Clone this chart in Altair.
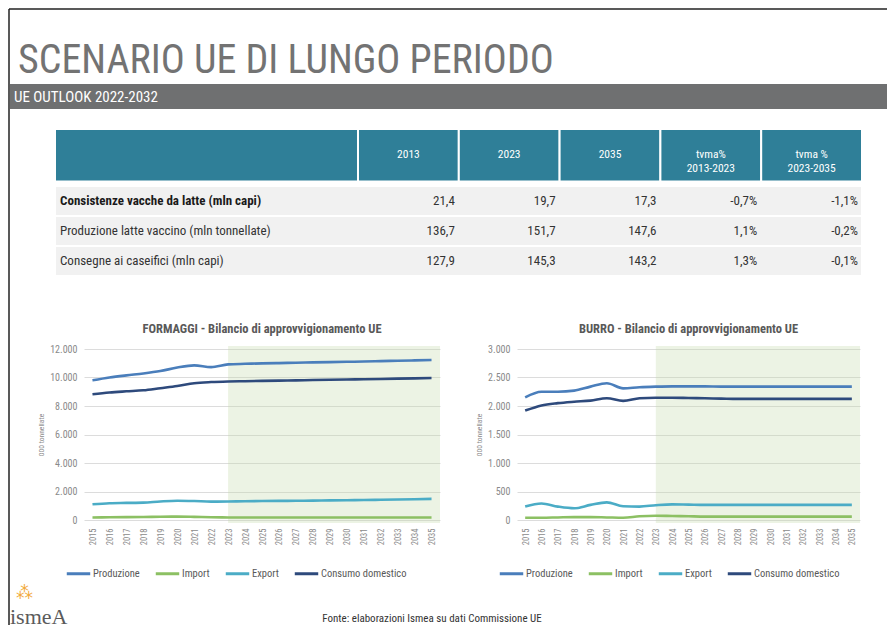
import altair as alt
import pandas as pd

FONT = "'Liberation Sans Narrow', 'Roboto Condensed', 'Arial Narrow', Roboto, sans-serif"

# ---------------- text content ----------------
title_text = "SCENARIO UE DI LUNGO PERIODO"
subtitle_text = "UE OUTLOOK 2022-2032"
source_text = "Fonte: elaborazioni Ismea su dati Commissione UE"
logo_text = "ismeA"
logo_dots = "⁂"

# ---------------- table data ----------------
table_columns = ["", "2013", "2023", "2035", "tvma%\n2013-2023", "tvma %\n2023-2035"]
row_labels = [
    "Consistenze vacche da latte  (mln capi)",
    "Produzione latte vaccino (mln tonnellate)",
    "Consegne ai caseifici (mln capi)",
]
col_2013 = ["21,4", "136,7", "127,9"]
col_2023 = ["19,7", "151,7", "145,3"]
col_2035 = ["17,3", "147,6", "143,2"]
col_tvma_13_23 = ["-0,7%", "1,1%", "1,3%"]
col_tvma_23_35 = ["-1,1%", "-0,2%", "-0,1%"]

# ---------------- chart data ----------------
years = list(range(2015, 2036))
series_names = ["Produzione", "Import", "Export", "Consumo domestico"]
series_colors = ["#4a7ebb", "#8cc063", "#4bacc6", "#2e4a7c"]
projection_start = [2023]

formaggi_title = "FORMAGGI - Bilancio di approvvigionamento UE"
formaggi_produzione = [9800, 10000, 10150, 10280, 10450, 10700, 10850, 10730, 10920, 10960, 10990,
                       11010, 11040, 11060, 11080, 11100, 11120, 11150, 11180, 11200, 11230]
formaggi_import = [180, 190, 200, 210, 230, 240, 220, 190, 180, 180, 180,
                   180, 180, 180, 180, 180, 180, 180, 180, 180, 180]
formaggi_export = [1100, 1180, 1200, 1220, 1300, 1350, 1330, 1290, 1300, 1320, 1330,
                   1340, 1350, 1360, 1380, 1390, 1400, 1420, 1440, 1460, 1480]
formaggi_consumo = [8820, 8950, 9030, 9100, 9250, 9400, 9600, 9680, 9720, 9740, 9760,
                    9780, 9800, 9820, 9840, 9860, 9880, 9900, 9920, 9940, 9960]

burro_title = "BURRO - Bilancio di approvvigionamento UE"
burro_produzione = [2150, 2250, 2250, 2270, 2340, 2400, 2310, 2330, 2340, 2345, 2345,
                    2345, 2340, 2340, 2340, 2340, 2340, 2340, 2340, 2340, 2340]
burro_import = [40, 40, 45, 50, 50, 45, 40, 65, 75, 70, 65,
                60, 60, 60, 60, 60, 60, 60, 60, 60, 60]
burro_export = [235, 290, 235, 205, 265, 310, 240, 235, 260, 275, 270,
                265, 265, 265, 265, 265, 265, 265, 265, 265, 265]
burro_consumo = [1920, 2010, 2050, 2075, 2095, 2135, 2090, 2135, 2145, 2145, 2140,
                 2135, 2130, 2125, 2125, 2125, 2125, 2125, 2125, 2125, 2125]

# ---------------- header (title + band + frame + footer texts) ----------------
one = pd.DataFrame({"t": [title_text]})
frame_top = alt.Chart(one).mark_rule(color="#222222", strokeWidth=1.5).encode(
    x=alt.value(-75), x2=alt.value(803), y=alt.value(0))
frame_left = alt.Chart(one).mark_rule(color="#222222", strokeWidth=1.5).encode(
    x=alt.value(-75), y=alt.value(0), y2=alt.value(616))
big_title = alt.Chart(one).mark_text(
    font=FONT, fontSize=40, color="#737373", align="left", baseline="alphabetic"
).encode(x=alt.value(-66), y=alt.value(64), text="t:N")
band = alt.Chart(one).mark_rect(color="#6f7071").encode(
    x=alt.value(-74), x2=alt.value(803), y=alt.value(75), y2=alt.value(100))
band_text = alt.Chart(pd.DataFrame({"t": [subtitle_text]})).mark_text(
    font=FONT, fontSize=15, color="white", align="left", baseline="middle"
).encode(x=alt.value(-70), y=alt.value(88), text="t:N")
src = alt.Chart(pd.DataFrame({"t": [source_text]})).mark_text(
    font=FONT, fontSize=11, color="#333333", align="center", baseline="middle"
).encode(x=alt.value(348), y=alt.value(610), text="t:N")
logo = alt.Chart(pd.DataFrame({"t": [logo_text]})).mark_text(
    font="'Liberation Serif', serif", fontSize=22, color="#5b5b5b", align="left", baseline="alphabetic"
).encode(x=alt.value(-74), y=alt.value(615), text="t:N")
dots = alt.Chart(pd.DataFrame({"t": [logo_dots]})).mark_text(
    font="'DejaVu Sans'", fontSize=17, color="#f2a93b", align="left", baseline="middle"
).encode(x=alt.value(-68), y=alt.value(584), text="t:N")
header = alt.layer(frame_top, frame_left, big_title, band, band_text, src, logo, dots).properties(
    width=804, height=120)

# ---------------- table ----------------
tx = alt.Scale(domain=[0, 1, 6], range=[-29, 274, 778], zero=False, nice=False)
ty = alt.Scale(domain=[0, 1, 4], range=[0, 57, 147], zero=False, nice=False)

header_df = pd.DataFrame({"c": list(range(len(table_columns))), "testo": table_columns})
rows_df = pd.DataFrame({"r": list(range(1, len(row_labels) + 1)), "etichetta": row_labels})
cells = []
for ci, colvals in enumerate([col_2013, col_2023, col_2035, col_tvma_13_23, col_tvma_23_35], start=1):
    for ri, v in enumerate(colvals, start=1):
        cells.append({"c": ci, "r": ri, "valore": v})
cells_df = pd.DataFrame(cells)

head_rect = alt.Chart(header_df).mark_rect(color="#2f7f98", stroke="white", strokeWidth=2).transform_calculate(
    c1="datum.c + 1").encode(
    x=alt.X("c:Q", scale=tx, axis=None), x2="c1:Q",
    y=alt.Y(datum=0, scale=ty, axis=None), y2=alt.datum(0.92))
head_text = alt.Chart(header_df).mark_text(
    font=FONT, fontSize=11.5, color="white", align="center", baseline="middle", lineBreak="\n"
).transform_calculate(cm="datum.c + 0.5").encode(
    x=alt.X("cm:Q", scale=tx, axis=None), y=alt.Y(datum=0.46, scale=ty, axis=None), text="testo:N")
row_rect = alt.Chart(rows_df).mark_rect(color="#f1f1f1", stroke="white", strokeWidth=2).transform_calculate(
    r1="datum.r + 1").encode(
    x=alt.X(datum=0, scale=tx, axis=None), x2=alt.datum(6),
    y=alt.Y("r:Q", scale=ty, axis=None), y2="r1:Q")
row_text_bold = alt.Chart(rows_df).mark_text(
    font=FONT, fontSize=13, fontWeight="bold", color="#1a1a1a", align="left", baseline="middle", dx=5
).transform_filter("datum.r == 1").transform_calculate(rm="datum.r + 0.5").encode(
    x=alt.X(datum=0, scale=tx, axis=None), y=alt.Y("rm:Q", scale=ty, axis=None), text="etichetta:N")
row_text = alt.Chart(rows_df).mark_text(
    font=FONT, fontSize=13, color="#333333", align="left", baseline="middle", dx=5
).transform_filter("datum.r > 1").transform_calculate(rm="datum.r + 0.5").encode(
    x=alt.X(datum=0, scale=tx, axis=None), y=alt.Y("rm:Q", scale=ty, axis=None), text="etichetta:N")
cell_text = alt.Chart(cells_df).mark_text(
    font=FONT, fontSize=13, color="#333333", align="right", baseline="middle", dx=-4
).transform_calculate(c1="datum.c + 1", rm="datum.r + 0.5").encode(
    x=alt.X("c1:Q", scale=tx, axis=None), y=alt.Y("rm:Q", scale=ty, axis=None), text="valore:N")
table = alt.layer(head_rect, head_text, row_rect, row_text_bold, row_text, cell_text).properties(
    width=804, height=220)


# ---------------- line charts ----------------
def line_chart(title, series_values, ymax, ystep, w, h):
    recs = []
    for name, vals in zip(series_names, series_values):
        for yr, v in zip(years, vals):
            recs.append({"anno": yr, "serie": name, "valore": v})
    df = pd.DataFrame(recs)
    xscale = alt.Scale(type="point", domain=years, padding=0.5)
    yscale = alt.Scale(domain=[0, ymax], nice=False)
    xaxis = alt.Axis(labelAngle=270, title=None, grid=False, domain=False, ticks=False, labelOverlap=False,
                     labelFont=FONT, labelFontSize=8.5, labelColor="#8a8a8a", labelPadding=8)
    shade = alt.Chart(pd.DataFrame({"anno": projection_start})).mark_rect(
        color="#c5d9ab", opacity=0.32).encode(
        x=alt.X("anno:O", scale=xscale, axis=xaxis), x2=alt.value(w),
        y=alt.value(-3), y2=alt.value(h + 3))
    lines = alt.Chart(df).mark_line(strokeWidth=2.6, interpolate="monotone").encode(
        x=alt.X("anno:O", scale=xscale, axis=xaxis),
        y=alt.Y("valore:Q", scale=yscale, axis=alt.Axis(
            values=list(range(0, ymax + 1, ystep)),
            labelExpr="replace(format(datum.value, ','), ',', '.')",
            title="000 tonnellate", titleFont=FONT, titleFontSize=7.5, titleFontWeight="normal",
            titleColor="#8a8a8a", titlePadding=4,
            grid=True, gridColor="#dcdcdc", gridWidth=1, domain=False, ticks=False,
            labelFont=FONT, labelFontSize=10, labelColor="#8a8a8a", labelPadding=7)),
        color=alt.Color("serie:N", scale=alt.Scale(domain=series_names, range=series_colors),
                        legend=alt.Legend(orient="none", legendX=-19, legendY=211, direction="horizontal",
                                          title=None, symbolType="stroke", symbolStrokeWidth=3,
                                          symbolSize=550, labelFont=FONT, labelFontSize=10.5,
                                          labelColor="#595959", columnPadding=9, labelOffset=1)),
    )
    return alt.layer(shade, lines).properties(
        width=w, height=h,
        title=alt.TitleParams(title, font=FONT, fontSize=12.5, fontWeight="bold", color="#595959",
                              offset=9, anchor="middle"))


formaggi = line_chart(formaggi_title,
                      [formaggi_produzione, formaggi_import, formaggi_export, formaggi_consumo],
                      12000, 2000, 356, 171)
burro = line_chart(burro_title,
                   [burro_produzione, burro_import, burro_export, burro_consumo],
                   3000, 500, 343, 171)
charts = alt.hconcat(formaggi, burro, spacing=77, bounds="flush").resolve_scale(color="independent")

chart = alt.vconcat(header, table, charts, spacing=0, bounds="flush").properties(
    padding={"left": 0, "top": 0, "right": 0, "bottom": 0}
).configure(font=FONT).configure_view(stroke=None)

chart.save("out.html", embed_options={"renderer": "svg", "actions": False})
